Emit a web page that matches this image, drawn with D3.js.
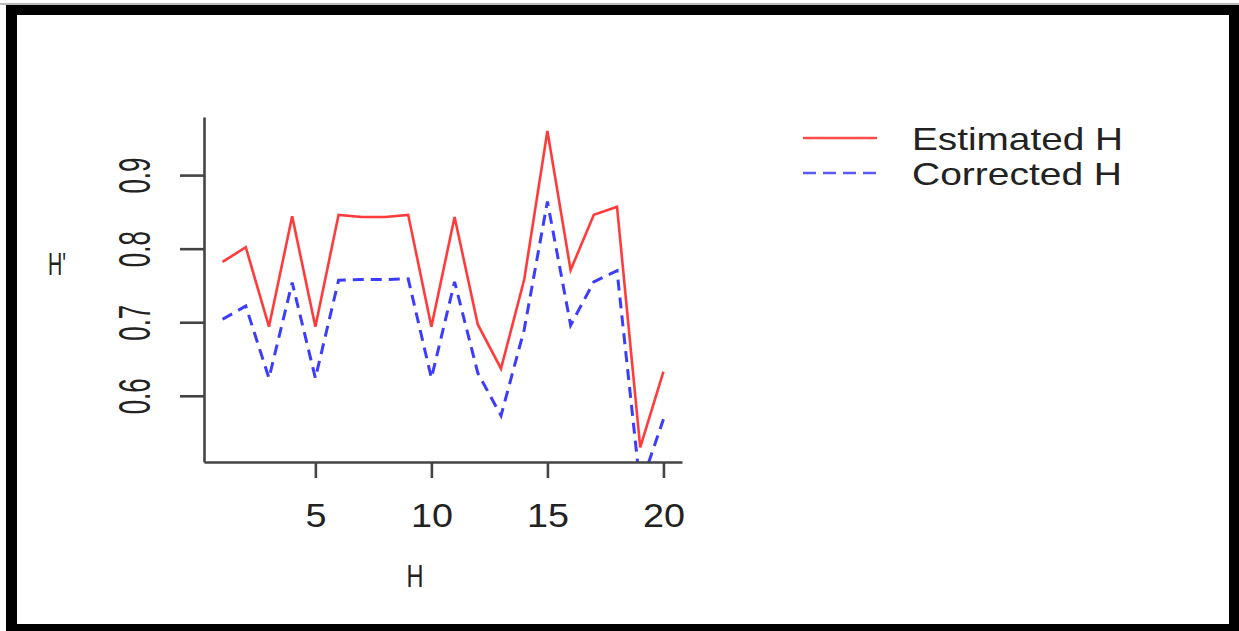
<!DOCTYPE html>
<html>
<head>
<meta charset="utf-8">
<script src="https://cdn.jsdelivr.net/npm/d3@7"></script>
<style>
  html, body { margin: 0; padding: 0; background: #fff; }
  svg { display: block; }
  text { font-family: "Liberation Sans", Arial, Helvetica, sans-serif; fill: #222; }
</style>
</head>
<body>
<div class="chart"></div>
<script>
var width = 1239, height = 631;

// H index 1..20
var hValues = [1, 2, 3, 4, 5, 6, 7, 8, 9, 10, 11, 12, 13, 14, 15, 16, 17, 18, 19, 20];
var estimated = [0.782, 0.802, 0.694, 0.844, 0.694, 0.846, 0.843, 0.843, 0.846, 0.694,
                 0.843, 0.697, 0.637, 0.758, 0.960, 0.771, 0.846, 0.857, 0.530, 0.633];
var corrected = [0.704, 0.722, 0.624, 0.754, 0.624, 0.757, 0.758, 0.758, 0.759, 0.624,
                 0.755, 0.631, 0.573, 0.690, 0.864, 0.696, 0.755, 0.770, 0.476, 0.568];
var xTicks = [5, 10, 15, 20];
var yTicks = [0.6, 0.7, 0.8, 0.9];
var seriesNames = ["Estimated H", "Corrected H"];

var plot = {left: 204, right: 682, top: 117, bottom: 462};

var svg = d3.select(".chart").append("svg")
            .attr("width", width)
            .attr("height", height);

// black frame around the picture
svg.append("rect").attr("x", 0).attr("y", 0).attr("width", width).attr("height", height).attr("fill", "#fff");
svg.append("rect").attr("x", 0).attr("y", 3).attr("width", width).attr("height", 2).attr("fill", "#bbb");
svg.append("rect").attr("x", 6).attr("y", 5).attr("width", width - 6).attr("height", height - 5).attr("fill", "#000");
svg.append("rect").attr("x", 17).attr("y", 15).attr("width", 1212).attr("height", 609).attr("fill", "#fff");

var x = d3.scaleLinear().domain([0.2, 20.8]).range([plot.left, plot.right]);
var y = d3.scaleLinear().domain([0.510, 0.979]).range([plot.bottom, plot.top]);

svg.append("clipPath").attr("id", "plotclip")
   .append("rect")
   .attr("x", plot.left).attr("y", plot.top)
   .attr("width", plot.right - plot.left).attr("height", plot.bottom - plot.top);

var line = function(vals) {
  return d3.line()
           .x(function(d, i) { return x(hValues[i]); })
           .y(function(d) { return y(d); })(vals);
};

svg.append("path")
   .attr("d", line(estimated))
   .attr("clip-path", "url(#plotclip)")
   .attr("fill", "none")
   .attr("stroke", "#ff3b3b")
   .attr("stroke-width", 2.6);

svg.append("path")
   .attr("d", line(corrected))
   .attr("clip-path", "url(#plotclip)")
   .attr("fill", "none")
   .attr("stroke", "#3c3cff")
   .attr("stroke-width", 3)
   .attr("stroke-dasharray", "11,7");

// axes
var xAxis = svg.append("g")
               .attr("transform", "translate(0," + plot.bottom + ")")
               .call(d3.axisBottom(x).tickValues(xTicks).tickSize(16).tickSizeOuter(0).tickFormat(d3.format("d")));
var yAxis = svg.append("g")
               .attr("transform", "translate(" + plot.left + ",0)")
               .call(d3.axisLeft(y).tickValues(yTicks).tickSize(24).tickSizeOuter(0).tickFormat(d3.format(".1f")));

[xAxis, yAxis].forEach(function(g) {
  g.selectAll("path, line").attr("stroke", "#444").attr("stroke-width", 2.6);
  g.selectAll("text").attr("font-family", null).attr("fill", "#222");
});

xAxis.selectAll("text")
     .attr("y", 65).attr("dy", null)
     .attr("font-size", 33)
     .attr("textLength", function(d) { return 21 * String(d).length; })
     .attr("lengthAdjust", "spacingAndGlyphs");

yAxis.selectAll("text")
     .attr("x", 0).attr("y", 0).attr("dy", null)
     .attr("transform", "translate(-54,0) rotate(-90)")
     .attr("text-anchor", "middle")
     .attr("font-size", 44)
     .attr("textLength", 36)
     .attr("lengthAdjust", "spacingAndGlyphs");

// axis titles
svg.append("text")
   .attr("x", 415).attr("y", 587)
   .attr("text-anchor", "middle")
   .attr("font-size", 32)
   .attr("textLength", 17)
   .attr("lengthAdjust", "spacingAndGlyphs")
   .text("H");

svg.append("text")
   .attr("x", 48).attr("y", 275)
   .attr("font-size", 32)
   .attr("textLength", 18)
   .attr("lengthAdjust", "spacingAndGlyphs")
   .text("H'");

// legend
var legend = svg.append("g");
var legendRows = [
  {name: seriesNames[0], color: "#ff4d4d", dash: null, y: 138, textLen: 211},
  {name: seriesNames[1], color: "#5a5aff", dash: "13,7", y: 173, textLen: 210}
];
legendRows.forEach(function(r) {
  legend.append("line")
        .attr("x1", 803).attr("x2", 877)
        .attr("y1", r.y).attr("y2", r.y)
        .attr("stroke", r.color)
        .attr("stroke-width", 2.6)
        .attr("stroke-dasharray", r.dash);
  legend.append("text")
        .attr("x", 912).attr("y", r.y + 12)
        .attr("font-size", 32)
        .attr("textLength", r.textLen)
        .attr("lengthAdjust", "spacingAndGlyphs")
        .text(r.name);
});
</script>
</body>
</html>
